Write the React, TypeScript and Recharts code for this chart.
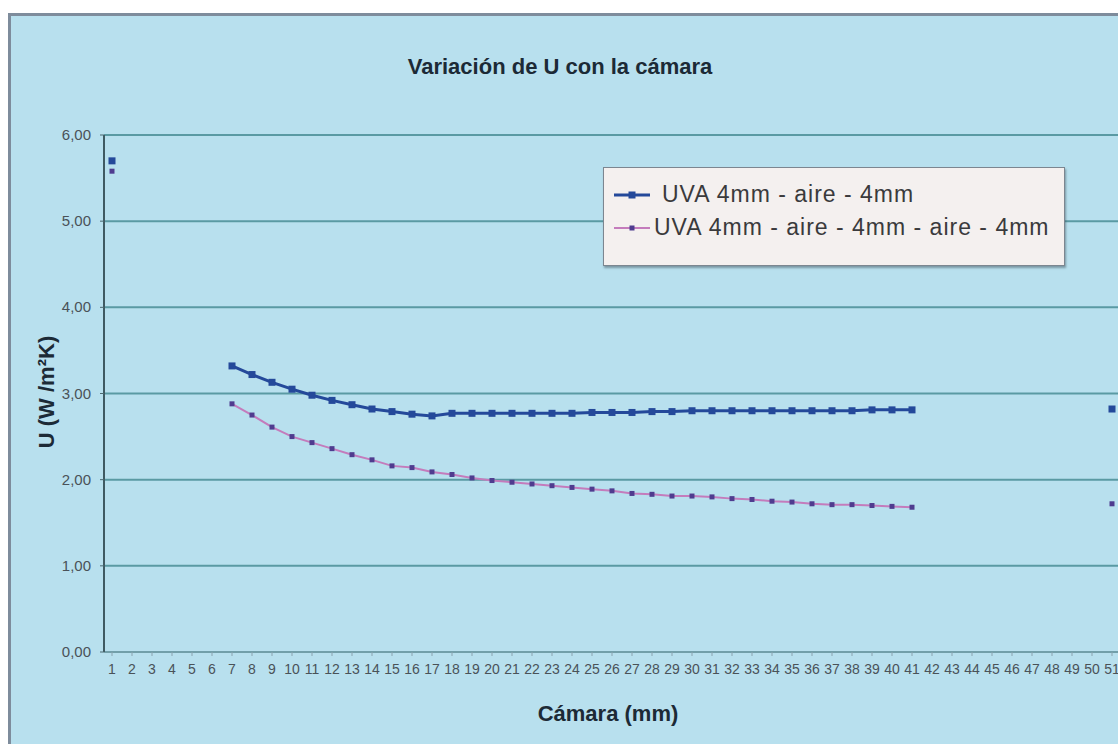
import React from 'react';
import { LineChart, Line, XAxis, YAxis, CartesianGrid } from 'recharts';

// Cámara (mm) categories 1..51
const camaras = [
  1, 2, 3, 4, 5, 6, 7, 8, 9, 10, 11, 12, 13, 14, 15, 16, 17, 18, 19, 20, 21, 22, 23, 24, 25, 26,
  27, 28, 29, 30, 31, 32, 33, 34, 35, 36, 37, 38, 39, 40, 41, 42, 43, 44, 45, 46, 47, 48, 49, 50, 51,
];

// UVA 4mm - aire - 4mm
const uDoble = [
  5.7, null, null, null, null, null,
  3.32, 3.22, 3.13, 3.05, 2.98, 2.92, 2.87, 2.82, 2.79, 2.76, 2.74, 2.77, 2.77, 2.77, 2.77, 2.77, 2.77,
  2.77, 2.78, 2.78, 2.78, 2.79, 2.79, 2.8, 2.8, 2.8, 2.8, 2.8, 2.8, 2.8, 2.8, 2.8, 2.81, 2.81, 2.81,
  null, null, null, null, null, null, null, null, null,
  2.82,
];

// UVA 4mm - aire - 4mm - aire - 4mm
const uTriple = [
  5.58, null, null, null, null, null,
  2.88, 2.75, 2.61, 2.5, 2.43, 2.36, 2.29, 2.23, 2.16, 2.14, 2.09, 2.06, 2.02, 1.99, 1.97, 1.95, 1.93,
  1.91, 1.89, 1.87, 1.84, 1.83, 1.81, 1.81, 1.8, 1.78, 1.77, 1.75, 1.74, 1.72, 1.71, 1.71, 1.7, 1.69, 1.68,
  null, null, null, null, null, null, null, null, null,
  1.72,
];

const yTicks = [0, 1, 2, 3, 4, 5, 6];
const seriesNames = ['UVA 4mm - aire - 4mm', 'UVA 4mm - aire - 4mm - aire - 4mm'];

const data = camaras.map((c, i) => ({ camara: c, doble: uDoble[i], triple: uTriple[i] }));

const BLUE = '#24499a';
const PINK = '#c47cbc';
const PURPLE = '#4f3c8f';
const TICK = '#4a5258';

const blueDot = (p: any) => {
  if (p.cy == null || p.value == null) return <g key={p.index} />;
  return <rect key={p.index} x={p.cx - 3.5} y={p.cy - 3.5} width={7} height={7} fill={BLUE} />;
};

const purpleDot = (p: any) => {
  if (p.cy == null || p.value == null) return <g key={p.index} />;
  return <rect key={p.index} x={p.cx - 2.5} y={p.cy - 2.5} width={5} height={5} fill={PURPLE} />;
};

const fmt = (v: number) => v.toFixed(2).replace('.', ',');

const font = '"Liberation Sans", Arial, sans-serif';

const XTick = (p: any) => (
  <text x={p.x} y={p.y} dy={14} textAnchor="middle" fontSize={14} fill={TICK} fontFamily={font}>
    {p.payload.value}
  </text>
);

const YTick = (p: any) => (
  <text x={p.x} y={p.y} dy={5} textAnchor="end" fontSize={15} fill={TICK} fontFamily={font}>
    {fmt(p.payload.value)}
  </text>
);

export default function App() {
  return (
    <div style={{ position: 'fixed', left: 0, top: 0, width: 1118, height: 744, overflow: 'hidden', background: '#fff', fontFamily: font }}>
      <div
        style={{
          position: 'absolute', left: 8, top: 13, width: 1200, height: 800,
          borderLeft: '3px solid #7e8c9c', borderTop: '3px solid #7e8c9c', background: '#b8e0ee',
        }}
      />
      <div style={{ position: 'absolute', left: 0, top: 54, width: 1120, textAlign: 'center', fontSize: 22, fontWeight: 'bold', color: '#1c2a36' }}>
        Variación de U con la cámara
      </div>
      <div
        style={{
          position: 'absolute', left: 47, top: 392, transform: 'translate(-50%, -50%) rotate(-90deg)',
          fontSize: 22, fontWeight: 'bold', color: '#1c2a36', whiteSpace: 'nowrap',
        }}
      >
        U (W /m²K)
      </div>
      <div style={{ position: 'absolute', left: 0, top: 701, width: 1216, textAlign: 'center', fontSize: 22, fontWeight: 'bold', color: '#1c2a36' }}>
        Cámara (mm)
      </div>
      <div style={{ position: 'absolute', left: 0, top: 0 }}>
        <LineChart width={1130} height={744} data={data} margin={{ top: 135, right: 8, left: 0, bottom: 62 }}>
          <CartesianGrid vertical={false} stroke="#5a9aa3" strokeWidth={2} />
          <XAxis
            dataKey="camara"
            type="category"
            interval={0}
            height={30}
            padding={{ left: 8, right: 10 }}
            tick={XTick}
            tickLine={{ stroke: '#8aa4b0' }}
            tickSize={4}
            tickMargin={4}
            axisLine={{ stroke: '#8aa4b0', strokeWidth: 1 }}
          />
          <YAxis
            width={104}
            domain={[0, 6]}
            ticks={yTicks}
            tick={YTick}
            tickLine={{ stroke: '#4a6870' }}
            tickSize={4}
            tickMargin={9}
            axisLine={{ stroke: '#3f5a62', strokeWidth: 2 }}
          />
          <Line
            dataKey="doble"
            name={seriesNames[0]}
            stroke={BLUE}
            strokeWidth={3}
            dot={blueDot}
            isAnimationActive={false}
            connectNulls={false}
          />
          <Line
            dataKey="triple"
            name={seriesNames[1]}
            stroke={PINK}
            strokeWidth={2}
            dot={purpleDot}
            isAnimationActive={false}
            connectNulls={false}
          />
        </LineChart>
      </div>
      <div
        style={{
          position: 'absolute', left: 603, top: 167, width: 460, height: 97,
          background: '#f4f0ef', border: '1px solid #7c8690', boxShadow: '1px 2px 2px rgba(60,80,90,0.5)',
        }}
      >
        {seriesNames.map((n, i) => (
          <div key={n} style={{ position: 'absolute', left: 10, top: i === 0 ? 13 : 46, display: 'flex', alignItems: 'center', whiteSpace: 'nowrap' }}>
            <svg width={36} height={10} style={{ marginRight: i === 0 ? 12 : 4 }}>
              <line x1={0} y1={5} x2={36} y2={5} stroke={i === 0 ? BLUE : PINK} strokeWidth={i === 0 ? 3 : 2} />
              <rect x={i === 0 ? 14.5 : 15.5} y={i === 0 ? 1.5 : 2.5} width={i === 0 ? 7 : 5} height={i === 0 ? 7 : 5} fill={i === 0 ? BLUE : PURPLE} />
            </svg>
            <span style={{ fontSize: 23, letterSpacing: 1, color: '#3a3a3c' }}>{n}</span>
          </div>
        ))}
      </div>
    </div>
  );
}
